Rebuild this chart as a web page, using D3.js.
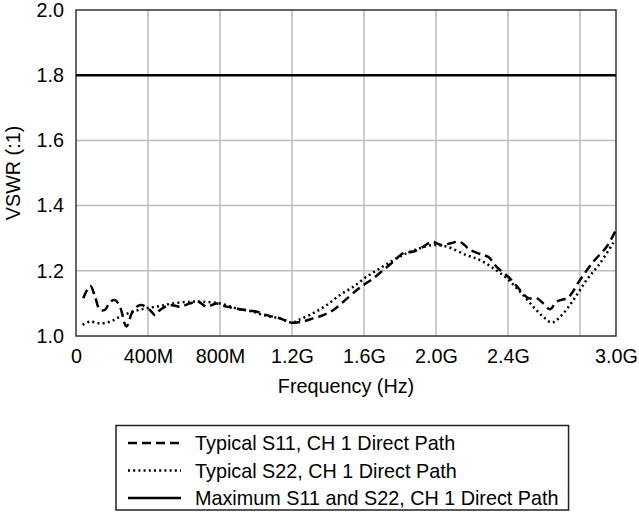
<!DOCTYPE html>
<html><head><meta charset="utf-8">
<script src="https://cdn.jsdelivr.net/npm/d3@7"></script>
<style>body{margin:0;background:#fff}svg{display:block}text{font-family:"Liberation Sans",Arial,sans-serif;fill:#000}</style>
</head><body><svg id="c" width="639" height="512"></svg>
<script>
const s11Freq = [0.04,0.08,0.106,0.133,0.16,0.19,0.217,0.244,0.28,0.31,0.337,0.365,0.41,0.44,0.467,0.52,0.578,0.633,0.68,0.726,0.78,0.837,0.91,1.0,1.06,1.133,1.2,1.263,1.318,1.374,1.43,1.485,1.56,1.596,1.652,1.707,1.763,1.818,1.874,1.93,1.976,2.03,2.078,2.133,2.189,2.263,2.29,2.337,2.41,2.467,2.513,2.56,2.596,2.633,2.67,2.735,2.8,2.874,2.948,3.0];
const s11Vswr = [1.116,1.153,1.12,1.08,1.08,1.105,1.11,1.09,1.029,1.07,1.09,1.095,1.08,1.064,1.08,1.095,1.09,1.10,1.105,1.09,1.10,1.09,1.082,1.075,1.064,1.054,1.041,1.045,1.054,1.064,1.08,1.105,1.141,1.156,1.177,1.202,1.228,1.254,1.259,1.274,1.289,1.279,1.284,1.289,1.264,1.248,1.243,1.212,1.177,1.141,1.116,1.116,1.10,1.082,1.105,1.119,1.172,1.228,1.274,1.325];
const s22Freq = [0.037,0.078,0.133,0.19,0.244,0.317,0.39,0.467,0.54,0.633,0.706,0.8,0.89,0.98,1.06,1.133,1.2,1.244,1.318,1.393,1.467,1.54,1.615,1.69,1.763,1.837,1.91,1.985,2.06,2.17,2.244,2.318,2.393,2.467,2.54,2.596,2.643,2.69,2.763,2.837,2.911,2.994];
const s22Vswr = [1.034,1.044,1.039,1.044,1.059,1.075,1.085,1.092,1.10,1.105,1.105,1.10,1.085,1.075,1.061,1.054,1.041,1.051,1.07,1.095,1.126,1.151,1.182,1.208,1.233,1.254,1.269,1.279,1.274,1.248,1.233,1.208,1.177,1.136,1.09,1.059,1.041,1.059,1.11,1.172,1.223,1.294];
const maxFreq = [0, 3.0];
const maxVswr = [1.8, 1.8];
const xTickValues = [0,0.4,0.8,1.2,1.6,2.0,2.4,3.0];
const xTickLabels = ["0","400M","800M","1.2G","1.6G","2.0G","2.4G","3.0G"];
const xGridValues = [0.4,0.8,1.2,1.6,2.0,2.4,2.8];
const yTickValues = [1.0,1.2,1.4,1.6,1.8,2.0];
const yGridValues = [1.2,1.4,1.6];
const legendLabels = ["Typical S11, CH 1 Direct Path","Typical S22, CH 1 Direct Path","Maximum S11 and S22, CH 1 Direct Path"];

const FS = "19.8px";
const svg = d3.select("#c");
const L=76,R=616,T=10,B=336;
const x = d3.scaleLinear().domain([0,3]).range([L,R]);
const y = d3.scaleLinear().domain([1,2]).range([B,T]);

svg.append("g").selectAll("line").data(xGridValues).join("line")
  .attr("x1",d=>x(d)).attr("x2",d=>x(d)).attr("y1",T).attr("y2",B)
  .attr("stroke","#bdbdbd").attr("stroke-width",1.5);
svg.append("g").selectAll("line").data(yGridValues).join("line")
  .attr("x1",L).attr("x2",R).attr("y1",d=>y(d)).attr("y2",d=>y(d))
  .attr("stroke","#bdbdbd").attr("stroke-width",1.5);

const xAxis = d3.axisBottom(x).tickValues(xTickValues).tickSize(0).tickPadding(13)
  .tickFormat((d,i)=>xTickLabels[i]);
const gx = svg.append("g").attr("transform",`translate(0,${B})`).call(xAxis);
gx.select(".domain").remove();
gx.selectAll("text").style("font-size",FS).style("font-family","Liberation Sans, Arial, sans-serif").attr("fill","#000");
const yAxis = d3.axisLeft(y).tickValues(yTickValues).tickSize(0).tickPadding(12).tickFormat(d3.format(".1f"));
const gy = svg.append("g").attr("transform",`translate(${L},0)`).call(yAxis);
gy.select(".domain").remove();
gy.selectAll("text").style("font-size",FS).style("font-family","Liberation Sans, Arial, sans-serif").attr("fill","#000");

svg.append("rect").attr("x",L).attr("y",T).attr("width",R-L).attr("height",B-T)
  .attr("fill","none").attr("stroke","#333").attr("stroke-width",1.5);

const line = d3.line().x(d=>x(d[0])).y(d=>y(d[1])).curve(d3.curveCatmullRom.alpha(0.5));
svg.append("path").datum(maxFreq.map((f,i)=>[f,maxVswr[i]])).attr("d",d3.line().x(d=>x(d[0])).y(d=>y(d[1])))
  .attr("fill","none").attr("stroke","#000").attr("stroke-width",2.5);
svg.append("path").datum(s22Freq.map((f,i)=>[f,s22Vswr[i]])).attr("d",line)
  .attr("fill","none").attr("stroke","#000").attr("stroke-width",2.5).attr("stroke-dasharray","2,3.2");
svg.append("path").datum(s11Freq.map((f,i)=>[f,s11Vswr[i]])).attr("d",line)
  .attr("fill","none").attr("stroke","#000").attr("stroke-width",2.5).attr("stroke-dasharray","9,5");

svg.append("text").attr("x",(L+R)/2).attr("y",393).attr("text-anchor","middle").style("font-size",FS).text("Frequency (Hz)");
svg.append("text").attr("transform",`translate(20,${(T+B)/2}) rotate(-90)`).attr("text-anchor","middle").style("font-size",FS).text("VSWR (:1)");

const lg = svg.append("g");
const box = lg.append("rect").attr("x",116).attr("y",425.5).attr("height",84.5).attr("fill","#fff").attr("stroke","#222").attr("stroke-width",1.5);
const dashes = ["9,5","2,3.2",null];
let maxEnd = 0;
legendLabels.forEach((t,i)=>{
  const yy = 443 + i*27.5;
  const ln = lg.append("line").attr("x1",128).attr("x2",181).attr("y1",yy).attr("y2",yy).attr("stroke","#000").attr("stroke-width",2.5);
  if (dashes[i]) ln.attr("stroke-dasharray",dashes[i]);
  const tx = lg.append("text").attr("x",195).attr("y",yy+7).style("font-size",FS).text(t);
  maxEnd = Math.max(maxEnd, 195 + tx.node().getComputedTextLength());
});
box.attr("width", maxEnd + 10 - 116);
</script></body></html>
